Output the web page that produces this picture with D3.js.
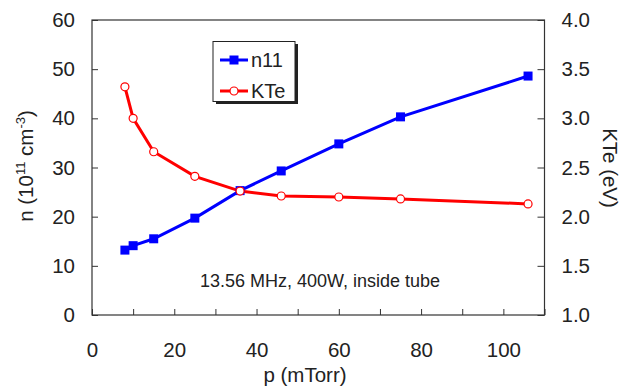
<!DOCTYPE html>
<html><head><meta charset="utf-8">
<script src="https://cdn.jsdelivr.net/npm/d3@7"></script>
<style>body{margin:0;background:#fff}svg text{font-family:"Liberation Sans",Arial,sans-serif;fill:#222}</style>
</head><body><svg id="c" width="624" height="388"></svg>
<script>
const pressure = [8, 10, 15, 25, 36, 46, 60, 75, 106];
const n11 = [13.2, 14.1, 15.5, 19.7, 25.3, 29.3, 34.8, 40.3, 48.6];
const kte = [3.32, 3.00, 2.66, 2.41, 2.26, 2.21, 2.20, 2.18, 2.13];
const xTicks = [0, 20, 40, 60, 80, 100];
const xMinor = [10, 30, 50, 70, 90, 110];
const yLeftTicks = [0, 10, 20, 30, 40, 50, 60];
const yRightTicks = [1.0, 1.5, 2.0, 2.5, 3.0, 3.5, 4.0];
const annotation = "13.56 MHz, 400W, inside tube";

const svg = d3.select("#c");
const L = 92, R = 544.5, T = 20, B = 315;
const x = d3.scaleLinear().domain([0, 110]).range([L, R]);
const yl = d3.scaleLinear().domain([0, 60]).range([B, T]);
const yr = d3.scaleLinear().domain([1, 4]).range([B, T]);

// frame
svg.append("rect").attr("x", L).attr("y", T).attr("width", R - L).attr("height", B - T)
  .attr("fill", "none").attr("stroke", "#333").attr("stroke-width", 1.2);

const fs = 20.5;
const ff = '"Liberation Sans",Arial,sans-serif';
// x axis
const gx = svg.append("g").attr("transform", `translate(0,${B})`)
  .call(d3.axisBottom(x).tickValues(xTicks.concat(xMinor)).tickSize(-6).tickPadding(27)
    .tickFormat(d => xTicks.includes(d) ? d : ""));
gx.select(".domain").remove();
gx.selectAll("line").attr("stroke", "#333");
gx.selectAll("text").attr("font-size", fs).attr("fill", "#222").attr("dy", "0.71em").style("font-family", ff);

// left axis
const gl = svg.append("g").attr("transform", `translate(${L},0)`)
  .call(d3.axisLeft(yl).tickValues(yLeftTicks).tickSize(-6).tickPadding(17));
gl.select(".domain").remove();
gl.selectAll("line").attr("stroke", "#333");
gl.selectAll("text").attr("font-size", fs).attr("fill", "#222").style("font-family", ff);

// right axis
const gr = svg.append("g").attr("transform", `translate(${R},0)`)
  .call(d3.axisRight(yr).tickValues(yRightTicks).tickSize(-7).tickPadding(17).tickFormat(d3.format(".1f")));
gr.select(".domain").remove();
gr.selectAll("line").attr("stroke", "#333");
gr.selectAll("text").attr("font-size", fs).attr("fill", "#222").style("font-family", ff);

// axis titles
svg.append("text").attr("x", 305).attr("y", 382).attr("text-anchor", "middle")
  .attr("font-size", fs).text("p  (mTorr)");
const lt = svg.append("text").attr("transform", "translate(33,166) rotate(-90)")
  .attr("text-anchor", "middle").attr("font-size", fs);
lt.append("tspan").text("n (10");
lt.append("tspan").attr("font-size", 13).attr("dy", -8).text("11");
lt.append("tspan").attr("dy", 8).text(" cm");
lt.append("tspan").attr("font-size", 13).attr("dy", -8).text("-3");
lt.append("tspan").attr("dy", 8).text(")");
svg.append("text").attr("transform", "translate(603,168) rotate(90)")
  .attr("text-anchor", "middle").attr("font-size", fs).text("KTe (eV)");

// lines
const lineN = d3.line().x((d, i) => x(pressure[i])).y(d => yl(d));
const lineK = d3.line().x((d, i) => x(pressure[i])).y(d => yr(d));
svg.append("path").datum(kte).attr("d", lineK).attr("fill", "none").attr("stroke", "#ff0000").attr("stroke-width", 3);
svg.append("path").datum(n11).attr("d", lineN).attr("fill", "none").attr("stroke", "#0000ff").attr("stroke-width", 3);
svg.selectAll(".sq").data(n11).enter().append("rect")
  .attr("x", (d, i) => x(pressure[i]) - 4.5).attr("y", d => yl(d) - 4.5)
  .attr("width", 9).attr("height", 9).attr("fill", "#0000ff");
svg.selectAll(".ci").data(kte).enter().append("circle")
  .attr("cx", (d, i) => x(pressure[i])).attr("cy", d => yr(d)).attr("r", 4)
  .attr("fill", "#fff").attr("stroke", "#ff0000").attr("stroke-width", 1.2);

// annotation
svg.append("text").attr("x", 320).attr("y", 287).attr("text-anchor", "middle")
  .attr("font-size", 18).text(annotation);

// legend
const lg = svg.append("g");
lg.append("rect").attr("x", 216).attr("y", 44).attr("width", 82).attr("height", 60).attr("fill", "#222");
lg.append("rect").attr("x", 213).attr("y", 41.5).attr("width", 82).attr("height", 60)
  .attr("fill", "#fff").attr("stroke", "#222").attr("stroke-width", 1);
lg.append("line").attr("x1", 220).attr("x2", 248).attr("y1", 60).attr("y2", 60).attr("stroke", "#0000ff").attr("stroke-width", 3);
lg.append("rect").attr("x", 229.5).attr("y", 55.5).attr("width", 9).attr("height", 9).attr("fill", "#0000ff");
lg.append("text").attr("x", 251).attr("y", 67).attr("font-size", 20).text("n11");
lg.append("line").attr("x1", 220).attr("x2", 248).attr("y1", 91).attr("y2", 91).attr("stroke", "#ff0000").attr("stroke-width", 3);
lg.append("circle").attr("cx", 234).attr("cy", 91).attr("r", 4).attr("fill", "#fff").attr("stroke", "#ff0000").attr("stroke-width", 1.2);
lg.append("text").attr("x", 251).attr("y", 98).attr("font-size", 20).text("KTe");
</script></body></html>
